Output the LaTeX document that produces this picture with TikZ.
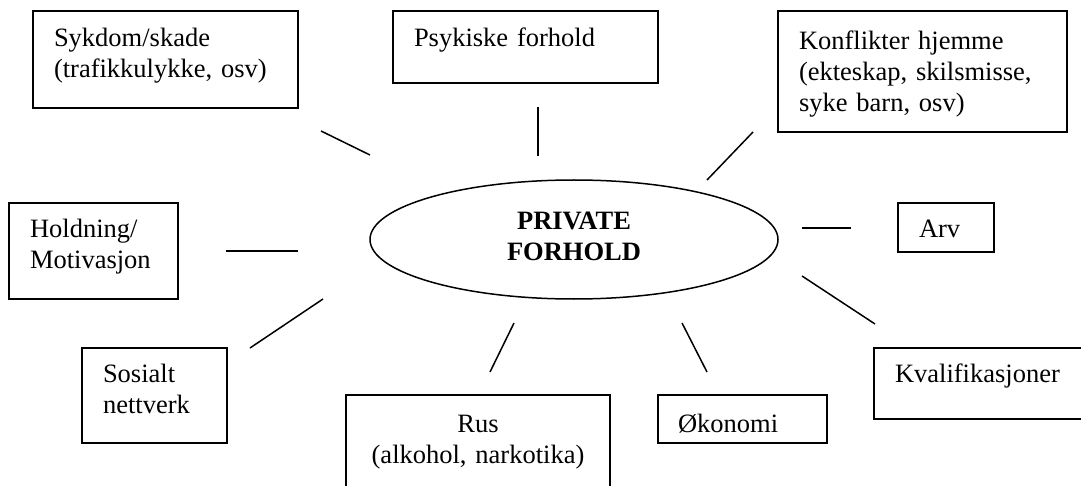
\documentclass[tikz,border=0pt]{standalone}
\usepackage{fontspec}
\setmainfont{Liberation Serif}
\usetikzlibrary{shapes.geometric}

\begin{document}
\begin{tikzpicture}[x=1pt,y=-1pt,
    factor/.style={draw,line width=1.8pt,anchor=north west,inner xsep=21pt,inner ysep=0pt,
      outer sep=0pt,align=left,font=\fontsize{26.5}{31}\selectfont},
    core/.style={draw,ellipse,line width=1.5pt,inner sep=0pt,minimum width=408pt,minimum height=119pt,
      align=center,font=\fontsize{26.5}{31}\selectfont\bfseries},
    spoke/.style={line width=1.5pt}]
  \useasboundingbox (0,0) rectangle (1081,486);
  \clip (0,0) rectangle (1081,486);
  % Nodes
  \node[core,text height=51pt,text depth=8pt] (private) at (574,239.5) {PRIVATE\\FORHOLD};
  \node[factor,text width=223pt,text height=36pt,text depth=61pt] (sykdom) at (33,11) {Sykdom/skade\\(trafikkulykke, osv)};
  \node[factor,text width=223pt,text height=36pt,text depth=36pt] (psykisk) at (393,11) {Psykiske forhold};
  \node[factor,text width=247pt,text height=39pt,text depth=82pt] (konflikt) at (778,11) {Konflikter hjemme\\(ekteskap, skilsmisse,\\syke barn, osv)};
  \node[factor,text width=127pt,text height=35pt,text depth=61pt] (holdning) at (9,203) {Holdning/\\Motivasjon};
  \node[factor,text width=103pt,text height=34pt,text depth=61pt] (sosialt) at (82,348) {Sosialt\\nettverk};
  \node[factor,text width=222pt,text height=37pt,text depth=68pt,align=center] (rus) at (346,395) {Rus\\(alkohol, narkotika)};
  \node[factor,text width=129pt,text height=37pt,text depth=11pt,inner xsep=20pt] (okonomi) at (658,395) {Økonomi};
  \node[factor,text width=54pt,text height=35pt,text depth=14pt] (arv) at (898,203) {Arv};
  \node[factor,text width=179pt,text height=34pt,text depth=37pt] (kval) at (874,348) {Kvalifikasjoner};
  % Spoke ends
  \coordinate (sykdom-a) at (321,131);   \coordinate (sykdom-b) at (370,155);
  \coordinate (psykisk-a) at (538,107);  \coordinate (psykisk-b) at (538,156);
  \coordinate (konflikt-a) at (753,132); \coordinate (konflikt-b) at (707,180);
  \coordinate (holdning-a) at (226,251); \coordinate (holdning-b) at (298,251);
  \coordinate (sosialt-a) at (250,348);  \coordinate (sosialt-b) at (323,299);
  \coordinate (rus-a) at (490,372);      \coordinate (rus-b) at (514,323);
  \coordinate (okonomi-a) at (707,372);  \coordinate (okonomi-b) at (682,323);
  \coordinate (arv-a) at (851,228);      \coordinate (arv-b) at (802,228);
  \coordinate (kval-a) at (875,324);     \coordinate (kval-b) at (802,276);
  % Spokes
  \foreach \f in {sykdom,psykisk,konflikt,holdning,sosialt,rus,okonomi,arv,kval}
    \draw[spoke] (\f-a) -- (\f-b);
\end{tikzpicture}
\end{document}
